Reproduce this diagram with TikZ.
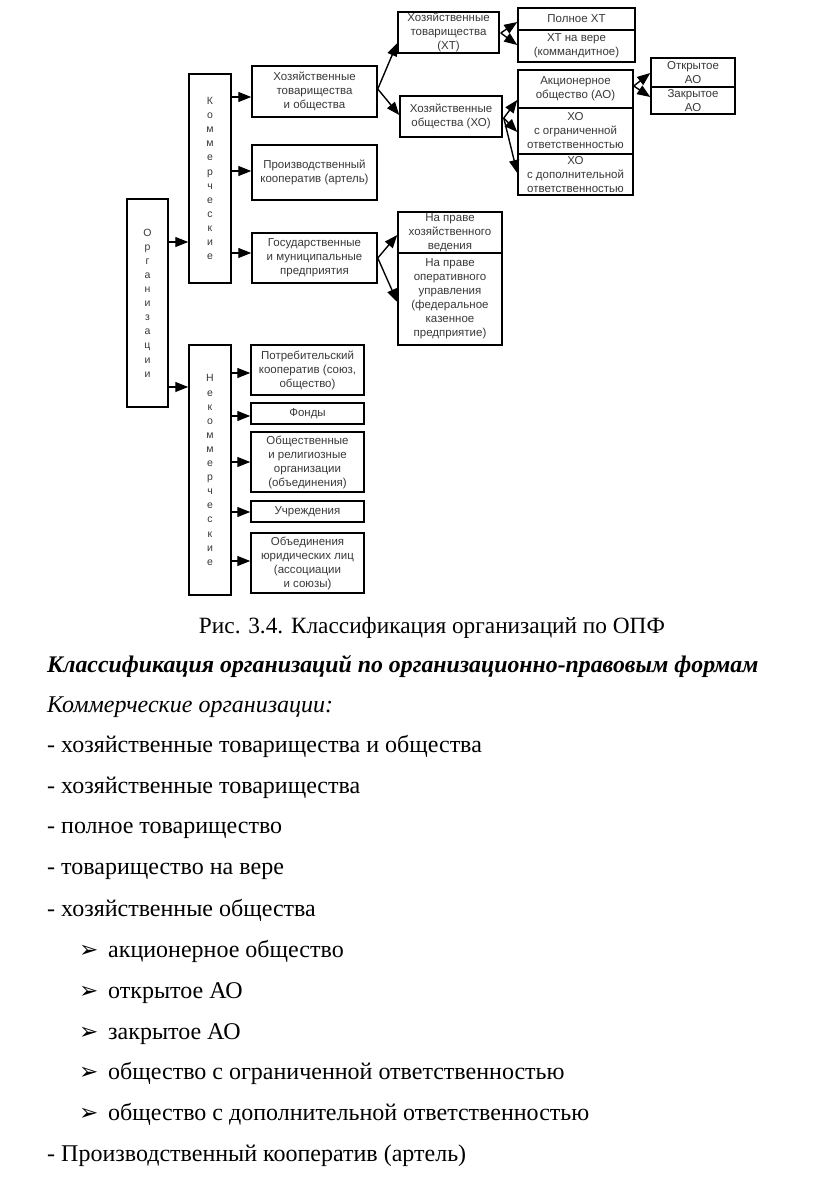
\documentclass[tikz,border=0pt]{standalone}
\usepackage{fontspec}
\setmainfont{Liberation Serif}
\newfontfamily\diagfont{Liberation Sans}
\newfontfamily\dejavu{DejaVu Sans}
\usetikzlibrary{arrows.meta,calc}
\newcommand\bx[7][]{%
  \node[box,#1,minimum width={#5-#3},minimum height={#6-#4}] (#2) at ({(#3+#5)/2},{(#4+#6)/2}) {#7};}
\begin{document}
\begin{tikzpicture}[x=1pt,y=-1pt,
  box/.style={draw=black,line width=1.5pt,inner sep=0pt,align=center,
    font=\diagfont\fontsize{11.5}{14}\selectfont,text=black!78},
  vbox/.style={font=\diagfont\fontsize{10.5}{14.1}\selectfont},
  arr/.style={line width=1.4pt,-{Triangle[length=13pt,width=10pt]}},
  body/.style={anchor=base west,inner sep=0pt,font=\fontsize{24}{24}\selectfont},
  bul/.style={anchor=base west,inner sep=0pt,font=\dejavu\fontsize{23}{23}\selectfont},
]
\useasboundingbox (0,0) rectangle (816,1184);

% vertical boxes
\bx[vbox]{org}{127}{199}{168}{407}{О\\р\\г\\а\\н\\и\\з\\а\\ц\\и\\и}
\bx[vbox]{kom}{189}{74}{231}{283}{К\\о\\м\\м\\е\\р\\ч\\е\\с\\к\\и\\е}
\bx[vbox]{nk}{189}{345}{231}{595}{Н\\е\\к\\о\\м\\м\\е\\р\\ч\\е\\с\\к\\и\\е}

% commercial branch
\bx{hto}{252}{66}{377}{117}{Хозяйственные\\товарищества\\и общества}
\bx{pk}{252}{145}{377}{200}{Производственный\\кооператив (артель)}
\bx{gmp}{252}{233}{377}{283}{Государственные\\и муниципальные\\предприятия}

\bx{xt}{398}{12}{499}{53}{Хозяйственные\\товарищества\\(ХТ)}
\bx{xo}{400}{96}{502}{137}{Хозяйственные\\общества (ХО)}

\bx{polnoe}{518}{8}{635}{30}{Полное ХТ}
\bx{navere}{518}{30}{635}{62}{ХТ на вере\\(коммандитное)}

\bx{ao}{518}{70}{633}{108}{Акционерное\\общество (АО)}
\bx{xoogr}{518}{108}{633}{154}{ХО\\с ограниченной\\ответственностью}
\bx{xodop}{518}{154}{633}{195}{ХО\\с дополнительной\\ответственностью}

\bx{otkr}{651}{58}{735}{87}{Открытое\\АО}
\bx{zakr}{651}{87}{735}{114}{Закрытое\\АО}

\bx{hozved}{398}{212}{502}{253}{На праве\\хозяйственного\\ведения}
\bx{oper}{398}{253}{502}{345}{На праве\\оперативного\\управления\\(федеральное\\казенное\\предприятие)}

% non-commercial branch
\bx{potr}{251}{345}{364}{395}{Потребительский\\кооператив (союз,\\общество)}
\bx{fondy}{251}{403}{364}{424}{Фонды}
\bx{obsh}{251}{432}{364}{492}{Общественные\\и религиозные\\организации\\(объединения)}
\bx{uchr}{251}{501}{364}{522}{Учреждения}
\bx{obyed}{251}{533}{364}{593}{Объединения\\юридических лиц\\(ассоциации\\и союзы)}

% arrow targets
\coordinate (t1) at ($(kom.west)+(0,63.5)$);
\coordinate (t2) at ($(nk.west)+(0,-83)$);
\coordinate (t3) at ($(hto.west)+(0,5.5)$);
\coordinate (t4) at ($(pk.west)+(0,-1.5)$);
\coordinate (t5) at ($(gmp.west)+(0,-5)$);
\coordinate (t6) at ($(potr.west)+(0,3)$);
\coordinate (t7) at ($(fondy.west)+(0,2.5)$);
\coordinate (t8) at (obsh.west);
\coordinate (t9) at ($(uchr.west)+(0,0.5)$);
\coordinate (t10) at ($(obyed.west)+(0,-2)$);

\draw[arr] (org.east |- t1) -- (t1);
\draw[arr] (org.east |- t2) -- (t2);
\foreach \t in {t3,t4,t5}{\draw[arr] (kom.east |- \t) -- (\t);}
\foreach \t in {t6,t7,t8,t9,t10}{\draw[arr] (nk.east |- \t) -- (\t);}

% fan-out arrows
\coordinate (o1) at ($(hto.east)+(0,-2.5)$);
\draw[arr] (o1) -- ($(xt.west)+(0,10.5)$);
\draw[arr] (o1) -- ($(xo.west)+(0,-1.5)$);

\coordinate (o2) at ($(xt.east)+(1,0.5)$);
\draw[arr] (o2) -- ($(polnoe.west)+(0,3)$);
\draw[arr] (o2) -- ($(navere.west)+(0,-1)$);

\coordinate (o3) at ($(xo.east)+(1,1.5)$);
\draw[arr] (o3) -- ($(ao.west)+(0,11)$);
\draw[arr] (o3) -- ($(xoogr.west)+(0,1)$);
\draw[arr] (o3) -- ($(xodop.west)+(0,-1.5)$);

\coordinate (o4) at ($(ao.east)+(0,-3)$);
\draw[arr] (o4) -- ($(otkr.west)+(0,0.5)$);
\draw[arr] (o4) -- ($(zakr.west)+(0,-3.5)$);

\coordinate (o5) at (gmp.east);
\draw[arr] (o5) -- ($(hozved.west)+(0,2.5)$);
\draw[arr] (o5) -- ($(oper.west)+(0,3)$);

% text below
\node[body,anchor=base,font=\fontsize{23.3}{24}\selectfont] (cap) at (432,633) {Рис. 3.4. Классификация организаций по ОПФ};
\node[body,font=\fontsize{23.8}{24}\selectfont] (l1) at (47,672) {\bfseries\itshape Классификация организаций по организационно-правовым формам};
\node[body] (l2) at (47,712) {\itshape Коммерческие организации:};
\node[body] (l3) at (47,752) {- хозяйственные товарищества и общества};
\node[body] (l4) at (47,793) {- хозяйственные товарищества};
\node[body] (l5) at (47,833) {- полное товарищество};
\node[body] (l6) at (47,874) {- товарищество на вере};
\node[body] (l7) at (47,916) {- хозяйственные общества};
\foreach \y/\txt [count=\i] in {957/акционерное общество,998/открытое АО,1039/закрытое АО,1079/общество с ограниченной ответственностью,1120/общество с дополнительной ответственностью}{
  \node[bul] (b\i) at (79,\y) {➢};
  \node[body] (s\i) at (108,\y) {\txt};
}
\node[body] (l8) at (47,1161) {- Производственный кооператив (артель)};
\end{tikzpicture}
\end{document}
